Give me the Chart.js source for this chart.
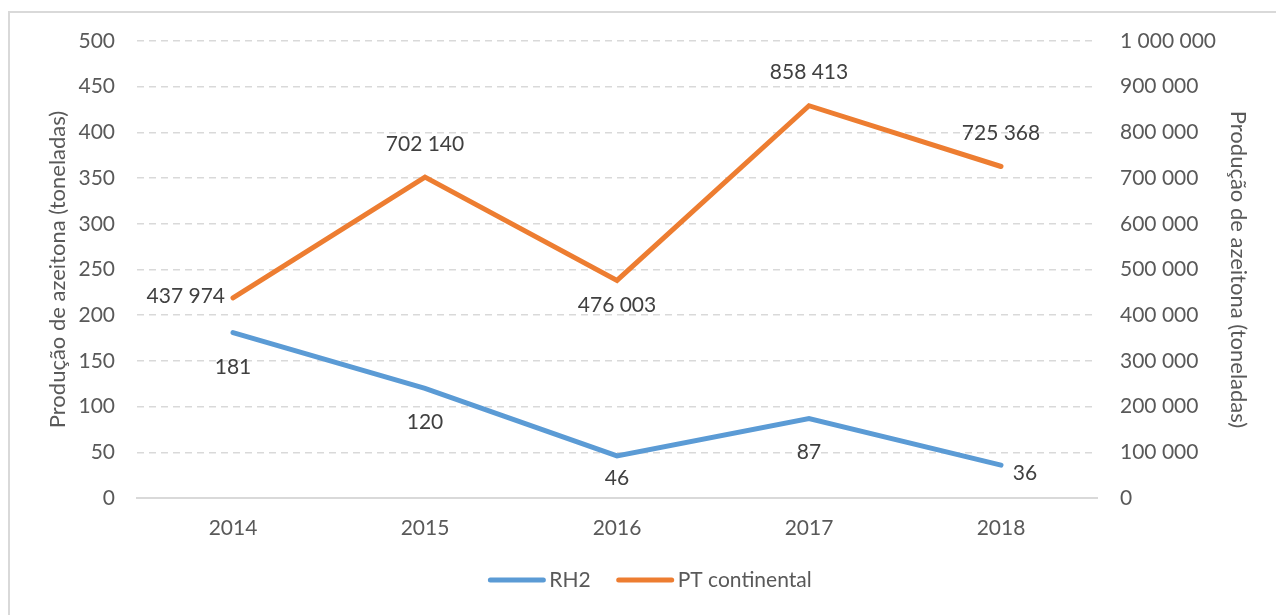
<!DOCTYPE html>
<html>
<head>
<meta charset="utf-8">
<title>Produção de azeitona</title>
<script src="https://cdn.jsdelivr.net/npm/chart.js@4.4.0/dist/chart.umd.min.js"></script>
<style>
    html, body { margin: 0; padding: 0; background: #fff; }
    #wrap { width: 1276px; height: 615px; }
</style>
</head>
<body>
<div id="wrap"><canvas id="oliveChart" width="1276" height="615"></canvas></div>
<script>
// Olive production per year (tonnes)
const years = ['2014', '2015', '2016', '2017', '2018'];
const rh2Values = [181, 120, 46, 87, 36];
const ptValues = [437974, 702140, 476003, 858413, 725368];

const seriesNames = ['RH2', 'PT continental'];
const axisTitle = 'Produção de azeitona (toneladas)';

// Axis ranges
const leftMax = 500, leftStep = 50;
const rightMax = 1000000, rightStep = 100000;

// Where each value label sits relative to its point: [dx, dy, align]
const rh2LabelSpots = [[0, 35], [0, 34], [0, 22], [0, 34], [24, 8]];
const ptLabelSpots = [[-8, -2, 'right'], [0, -33], [0, 25], [0, -33], [0, -33]];

const FONT = 'Lato, "Open Sans", sans-serif';
const GRAY = '#595959';
const GRID = '#D9D9D9';

// 1 000 000 style thousands separator
function fmt(n) {
    return String(n).replace(/\B(?=(\d{3})+(?!\d))/g, ' ');
}

// white background + frame around the chart
const framePlugin = {
    id: 'frame',
    beforeDraw(chart) {
        const ctx = chart.ctx;
        ctx.save();
        ctx.fillStyle = '#fff';
        ctx.fillRect(0, 0, chart.width, chart.height);
        ctx.strokeStyle = GRID;
        ctx.lineWidth = 2;
        ctx.strokeRect(9, 12, chart.width + 20, chart.height + 20);
        ctx.restore();
    }
};

// value labels next to each point
const valueLabels = {
    id: 'valueLabels',
    afterDatasetsDraw(chart) {
        const ctx = chart.ctx;
        const spots = [rh2LabelSpots, ptLabelSpots];
        ctx.save();
        ctx.font = '21px ' + FONT;
        ctx.fillStyle = '#404040';
        ctx.textBaseline = 'middle';
        chart.data.datasets.forEach((ds, di) => {
            chart.getDatasetMeta(di).data.forEach((pt, i) => {
                const s = spots[di][i];
                ctx.textAlign = s[2] || 'center';
                ctx.fillText(fmt(ds.data[i]), pt.x + s[0], pt.y + s[1]);
            });
        });
        ctx.restore();
    }
};

// legend drawn as thick line samples under the plot
const lineLegend = {
    id: 'lineLegend',
    afterDraw(chart) {
        const ctx = chart.ctx;
        const sample = 57, gap = 4, itemGap = 26, y = 580;
        ctx.save();
        ctx.font = '21px ' + FONT;
        const items = chart.data.datasets.map(ds => ({
            text: ds.label, color: ds.borderColor, w: sample + gap + ctx.measureText(ds.label).width
        }));
        const total = items.reduce((a, it) => a + it.w, 0) + itemGap * (items.length - 1);
        let x = 650 - total / 2;
        items.forEach(it => {
            ctx.strokeStyle = it.color;
            ctx.lineWidth = 5;
            ctx.lineCap = 'round';
            ctx.beginPath();
            ctx.moveTo(x + 2, y);
            ctx.lineTo(x + sample - 2, y);
            ctx.stroke();
            ctx.fillStyle = GRAY;
            ctx.textAlign = 'left';
            ctx.textBaseline = 'middle';
            ctx.fillText(it.text, x + sample + gap, y);
            x += it.w + itemGap;
        });
        ctx.restore();
    }
};

const ctx = document.getElementById('oliveChart').getContext('2d');
new Chart(ctx, {
    type: 'line',
    data: {
        labels: years,
        datasets: [{
            label: seriesNames[0],
            data: rh2Values,
            yAxisID: 'y',
            borderColor: '#5B9BD5',
            backgroundColor: '#5B9BD5',
            borderWidth: 5,
            borderCapStyle: 'round',
            borderJoinStyle: 'miter',
            pointRadius: 0,
            tension: 0
        }, {
            label: seriesNames[1],
            data: ptValues,
            yAxisID: 'y1',
            borderColor: '#ED7D31',
            backgroundColor: '#ED7D31',
            borderWidth: 5,
            borderCapStyle: 'round',
            borderJoinStyle: 'miter',
            pointRadius: 0,
            tension: 0
        }]
    },
    options: {
        responsive: false,
        animation: false,
        devicePixelRatio: 1,
        layout: { padding: { top: 41, left: 0, right: 0, bottom: 0 } },
        plugins: {
            legend: { display: false },
            tooltip: { enabled: false }
        },
        scales: {
            x: {
                offset: true,
                grid: { display: false, drawTicks: false },
                border: { display: true, color: GRID, width: 2 },
                ticks: { color: GRAY, font: { family: FONT, size: 21 }, padding: 18 },
                afterFit: scale => { scale.height = 117; }
            },
            y: {
                position: 'left',
                min: 0,
                max: leftMax,
                ticks: { stepSize: leftStep, color: GRAY, font: { family: FONT, size: 21 }, padding: 22 },
                grid: {
                    drawTicks: false,
                    lineWidth: 1.6,
                    color: c => (c.tick && c.tick.value === 0) ? 'rgba(0,0,0,0)' : GRID
                },
                border: { display: false, dash: [7, 5] },
                title: {
                    display: true, text: axisTitle, color: GRAY,
                    font: { family: FONT, size: 22 }, padding: { top: 45, bottom: 0 }
                },
                afterFit: scale => { scale.width = 137; }
            },
            y1: {
                position: 'right',
                min: 0,
                max: rightMax,
                ticks: {
                    stepSize: rightStep, color: GRAY, font: { family: FONT, size: 21 }, padding: 23,
                    callback: v => fmt(v)
                },
                grid: { drawOnChartArea: false, drawTicks: false },
                border: { display: false },
                title: {
                    display: true, text: axisTitle, color: GRAY,
                    font: { family: FONT, size: 22 }, padding: { top: 25, bottom: 0 }
                },
                afterFit: scale => { scale.width = 179; }
            }
        }
    },
    plugins: [framePlugin, valueLabels, lineLegend]
});
</script>
</body>
</html>
